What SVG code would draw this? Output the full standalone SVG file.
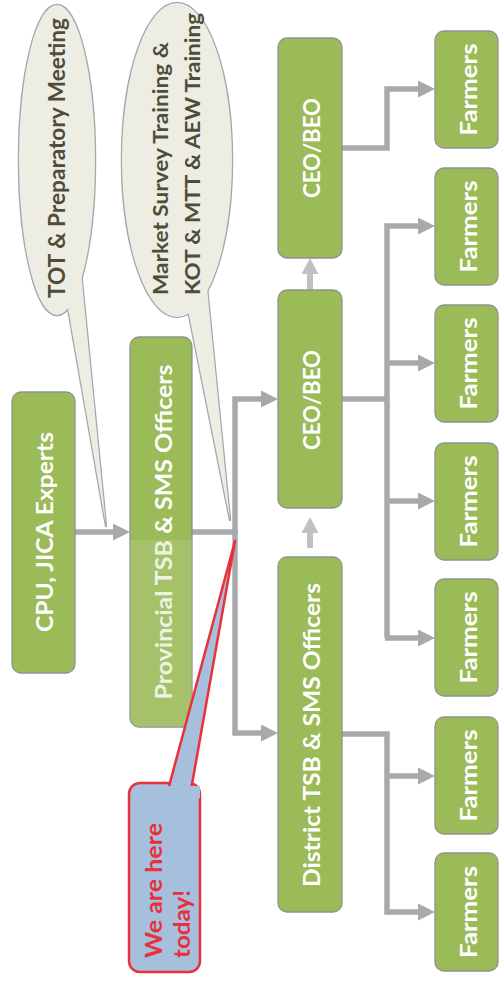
<svg xmlns="http://www.w3.org/2000/svg" width="501" height="982" viewBox="0 0 501 982">
<defs>
<marker id="ah" markerUnits="userSpaceOnUse" markerWidth="17" markerHeight="17" viewBox="0 0 17 17" refX="0" refY="8.5" orient="auto"><path d="M0,0 L17,8.5 L0,17 z" fill="#A7A9AC"/></marker>
<clipPath id="provClip"><rect x="130" y="337" width="62" height="390" rx="9"/></clipPath>
</defs>
<style>
.box{fill:#9BBB59;stroke:#8E928E;stroke-width:1.3}
.bt{font-family:Lato,"Open Sans","Liberation Sans",sans-serif;font-weight:bold;font-size:23px;fill:#FFFFFF;text-anchor:middle}
.conn{fill:none;stroke:#A7A9AC;stroke-width:5.5;stroke-linejoin:miter}
.arr{marker-end:url(#ah)}
.up{fill:#BFC1C3}
.cfill{fill:#EDEDE3}
.cstroke{fill:none;stroke:#A4A7AB;stroke-width:2.5;stroke-linejoin:round}
.ct{font-family:Lato,"Open Sans","Liberation Sans",sans-serif;font-weight:bold;fill:#4D4D3A}
.rt{font-family:Lato,"Open Sans","Liberation Sans",sans-serif;font-weight:bold;font-size:22px;fill:#E8313A}
</style>
<g id="connectors">
<path class="conn arr" d="M75,532 H113"/>
<path class="conn" d="M192,532 H235"/>
<path class="conn arr" d="M235,535 V399 H261"/>
<path class="conn arr" d="M235,530 V733 H261"/>
<path class="conn arr" d="M342,148 H387 V89 H418"/>
<path class="conn" d="M342,399 H387"/>
<path class="conn arr" d="M387,638 V226 H418"/>
<path class="conn arr" d="M387,363 H418"/>
<path class="conn arr" d="M387,501 H418"/>
<path class="conn arr" d="M385,638 H418"/>
<path class="conn arr" d="M342,734 H387 V912 H418"/>
<path class="conn arr" d="M387,776 H418"/>
<g id="up1"><rect class="up" x="307" y="273" width="6" height="17"/><polygon class="up" points="301.5,274 310,258 318.5,274"/></g>
<g id="up2"><rect class="up" x="307" y="532" width="6" height="16"/><polygon class="up" points="301.5,533 310,517 318.5,533"/></g>
</g>
<g id="cpu">
<rect class="box" x="12" y="392" width="63" height="281" rx="9"/>
<text class="bt" transform="translate(53,532) rotate(-90)" textLength="200" lengthAdjust="spacingAndGlyphs">CPU, JICA Experts</text>
</g>
<g id="provincial">
<rect class="box" x="130" y="337" width="62" height="390" rx="9"/>
<text class="bt" transform="translate(172,532) rotate(-90)" textLength="335" lengthAdjust="spacingAndGlyphs">Provincial TSB &amp; SMS Officers</text>
<rect x="128" y="540" width="66" height="190" fill="#BFD49A" opacity="0.28" clip-path="url(#provClip)"/>
</g>
<g id="ceo-top">
<rect class="box" x="278" y="38" width="64" height="220" rx="9"/>
<text class="bt" transform="translate(320,148) rotate(-90)" textLength="100" lengthAdjust="spacingAndGlyphs">CEO/BEO</text>
</g>
<g id="ceo-mid">
<rect class="box" x="278" y="290" width="64" height="218" rx="9"/>
<text class="bt" transform="translate(320,400) rotate(-90)" textLength="100" lengthAdjust="spacingAndGlyphs">CEO/BEO</text>
</g>
<g id="district">
<rect class="box" x="278" y="557" width="64" height="355" rx="9"/>
<text class="bt" transform="translate(320,735) rotate(-90)" textLength="304" lengthAdjust="spacingAndGlyphs">District TSB &amp; SMS Officers</text>
</g>
<g id="farmers1"><rect class="box" x="435" y="31" width="63" height="117" rx="9"/><text class="bt" transform="translate(477,89.5) rotate(-90)" textLength="92" lengthAdjust="spacingAndGlyphs">Farmers</text></g>
<g id="farmers2"><rect class="box" x="435" y="168" width="63" height="117" rx="9"/><text class="bt" transform="translate(477,226.5) rotate(-90)" textLength="92" lengthAdjust="spacingAndGlyphs">Farmers</text></g>
<g id="farmers3"><rect class="box" x="435" y="305" width="63" height="117" rx="9"/><text class="bt" transform="translate(477,363.5) rotate(-90)" textLength="92" lengthAdjust="spacingAndGlyphs">Farmers</text></g>
<g id="farmers4"><rect class="box" x="435" y="443" width="63" height="117" rx="9"/><text class="bt" transform="translate(477,501.5) rotate(-90)" textLength="92" lengthAdjust="spacingAndGlyphs">Farmers</text></g>
<g id="farmers5"><rect class="box" x="435" y="579" width="63" height="117" rx="9"/><text class="bt" transform="translate(477,637.5) rotate(-90)" textLength="92" lengthAdjust="spacingAndGlyphs">Farmers</text></g>
<g id="farmers6"><rect class="box" x="435" y="717" width="63" height="117" rx="9"/><text class="bt" transform="translate(477,775.5) rotate(-90)" textLength="92" lengthAdjust="spacingAndGlyphs">Farmers</text></g>
<g id="farmers7"><rect class="box" x="435" y="853" width="63" height="118" rx="9"/><text class="bt" transform="translate(477,912) rotate(-90)" textLength="92" lengthAdjust="spacingAndGlyphs">Farmers</text></g>
<g id="callout-tot">
<ellipse class="cstroke" cx="57" cy="160" rx="38" ry="155"/>
<polygon class="cstroke" points="64,285 80,262 106,526"/>
<ellipse class="cfill" cx="57" cy="160" rx="38" ry="155"/>
<polygon class="cfill" points="64,285 80,262 106,526"/>
<text class="ct" font-size="22" transform="translate(65,298) rotate(-90)" textLength="280" lengthAdjust="spacingAndGlyphs">TOT  &amp;  Preparatory  Meeting</text>
</g>
<g id="callout-market">
<ellipse class="cstroke" cx="177" cy="160" rx="55" ry="157"/>
<polygon class="cstroke" points="184,290 205,268 230,520"/>
<ellipse class="cfill" cx="177" cy="160" rx="55" ry="157"/>
<polygon class="cfill" points="184,290 205,268 230,520"/>
<text class="ct" font-size="21" transform="translate(168,295) rotate(-90)" textLength="253" lengthAdjust="spacingAndGlyphs">Market Survey Training &amp;</text>
<text class="ct" font-size="21" transform="translate(200,295) rotate(-90)" textLength="282" lengthAdjust="spacingAndGlyphs">KOT &amp; MTT &amp; AEW Training</text>
</g>
<g id="callout-today">
<rect x="129" y="783" width="71" height="189" rx="11" fill="#A6BFDD" stroke="#E8313A" stroke-width="2.5"/>
<polygon points="168,790 191,790 235,541" fill="#A6BFDD" stroke="#E8313A" stroke-width="2.5" stroke-linejoin="round"/>
<rect x="160" y="786" width="40" height="12" fill="#A6BFDD"/>
<text class="rt" transform="translate(162,958) rotate(-90)" textLength="135" lengthAdjust="spacingAndGlyphs">We are here</text>
<text class="rt" transform="translate(190,958) rotate(-90)" textLength="68" lengthAdjust="spacingAndGlyphs">today!</text>
</g>
</svg>
